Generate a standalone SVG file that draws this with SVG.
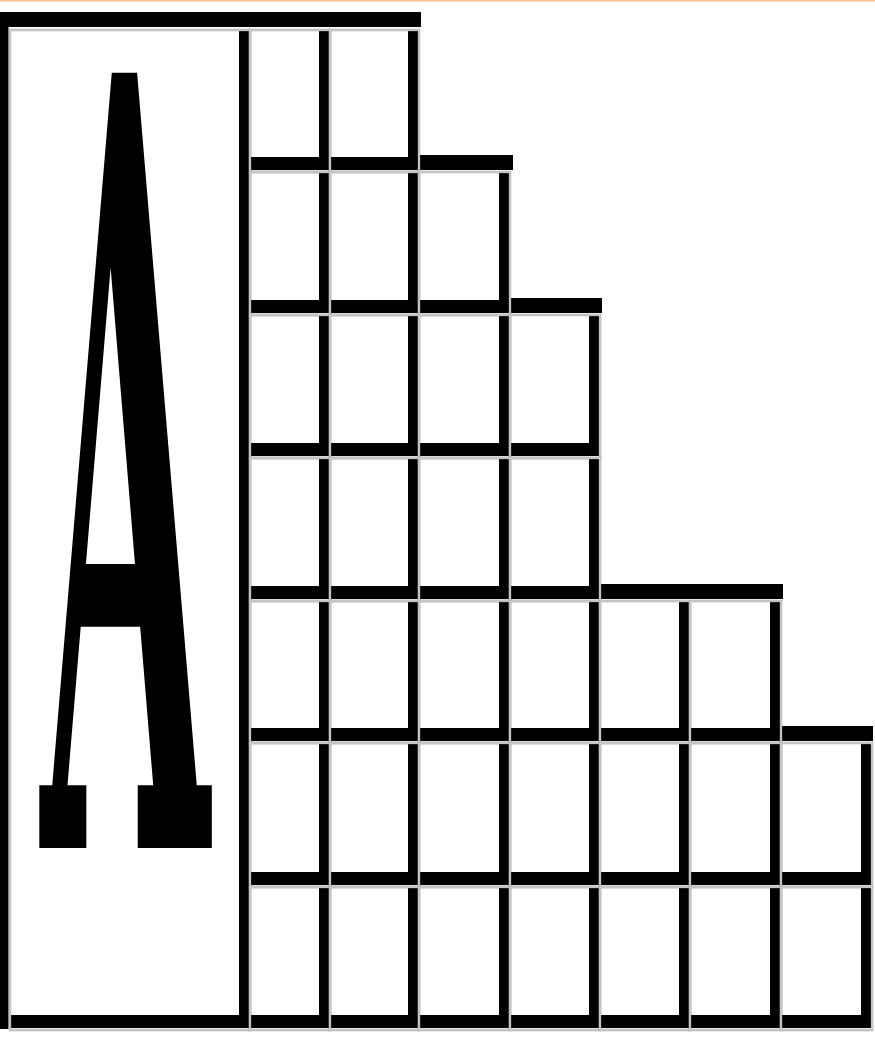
<svg xmlns="http://www.w3.org/2000/svg" width="875" height="1038" viewBox="0 0 875 1038">
<style>
.blk{fill:#000}
.ln{fill:none;stroke:#9c9c9c;stroke-width:2.4}
.hl{fill:none;stroke:#f4f4f4;stroke-width:0.9}
.glyph{font-family:"DejaVu Serif","Liberation Serif",serif;font-weight:bold;fill:#000}
</style>
<rect x="0" y="0" width="875" height="1038" fill="#fff"/>
<rect x="0" y="0" width="875" height="1.5" fill="#f7c28f"/>
<g id="frame">
<rect class="blk" x="0" y="12" width="421" height="15"/>
<rect class="blk" x="0" y="12" width="8.5" height="1017"/>
<rect class="blk" x="410" y="155" width="103" height="15"/>
<rect class="blk" x="500" y="298" width="102" height="15"/>
<rect class="blk" x="590" y="584" width="193" height="15"/>
<rect class="blk" x="770" y="726" width="103" height="15"/>
</g>
<g id="box-A">
<rect class="blk" x="10" y="1015" width="240" height="13"/>
<rect class="blk" x="239" y="30" width="10" height="998"/>
<rect class="ln" x="10" y="30" width="240" height="1000"/>
<rect class="hl" x="10" y="30" width="240" height="1000"/>
<text class="glyph" transform="translate(41,848) scale(1,4.9)" font-size="217">A</text>
</g>
<g id="cells">
<g id="r1c1"><rect class="blk" x="250" y="157" width="80" height="13"/><rect class="blk" x="319" y="30" width="10" height="140"/><rect class="ln" x="250" y="30" width="80" height="142"/><rect class="hl" x="250" y="30" width="80" height="142"/></g>
<g id="r1c2"><rect class="blk" x="330" y="157" width="89" height="13"/><rect class="blk" x="408" y="30" width="10" height="140"/><rect class="ln" x="330" y="30" width="89" height="142"/><rect class="hl" x="330" y="30" width="89" height="142"/></g>
<g id="r2c1"><rect class="blk" x="250" y="300" width="80" height="13"/><rect class="blk" x="319" y="172" width="10" height="141"/><rect class="ln" x="250" y="172" width="80" height="143"/><rect class="hl" x="250" y="172" width="80" height="143"/></g>
<g id="r2c2"><rect class="blk" x="330" y="300" width="89" height="13"/><rect class="blk" x="408" y="172" width="10" height="141"/><rect class="ln" x="330" y="172" width="89" height="143"/><rect class="hl" x="330" y="172" width="89" height="143"/></g>
<g id="r2c3"><rect class="blk" x="419" y="300" width="91" height="13"/><rect class="blk" x="499" y="172" width="10" height="141"/><rect class="ln" x="419" y="172" width="91" height="143"/><rect class="hl" x="419" y="172" width="91" height="143"/></g>
<g id="r3c1"><rect class="blk" x="250" y="443" width="80" height="13"/><rect class="blk" x="319" y="315" width="10" height="141"/><rect class="ln" x="250" y="315" width="80" height="143"/><rect class="hl" x="250" y="315" width="80" height="143"/></g>
<g id="r3c2"><rect class="blk" x="330" y="443" width="89" height="13"/><rect class="blk" x="408" y="315" width="10" height="141"/><rect class="ln" x="330" y="315" width="89" height="143"/><rect class="hl" x="330" y="315" width="89" height="143"/></g>
<g id="r3c3"><rect class="blk" x="419" y="443" width="91" height="13"/><rect class="blk" x="499" y="315" width="10" height="141"/><rect class="ln" x="419" y="315" width="91" height="143"/><rect class="hl" x="419" y="315" width="91" height="143"/></g>
<g id="r3c4"><rect class="blk" x="510" y="443" width="90" height="13"/><rect class="blk" x="589" y="315" width="10" height="141"/><rect class="ln" x="510" y="315" width="90" height="143"/><rect class="hl" x="510" y="315" width="90" height="143"/></g>
<g id="r4c1"><rect class="blk" x="250" y="586" width="80" height="13"/><rect class="blk" x="319" y="458" width="10" height="141"/><rect class="ln" x="250" y="458" width="80" height="143"/><rect class="hl" x="250" y="458" width="80" height="143"/></g>
<g id="r4c2"><rect class="blk" x="330" y="586" width="89" height="13"/><rect class="blk" x="408" y="458" width="10" height="141"/><rect class="ln" x="330" y="458" width="89" height="143"/><rect class="hl" x="330" y="458" width="89" height="143"/></g>
<g id="r4c3"><rect class="blk" x="419" y="586" width="91" height="13"/><rect class="blk" x="499" y="458" width="10" height="141"/><rect class="ln" x="419" y="458" width="91" height="143"/><rect class="hl" x="419" y="458" width="91" height="143"/></g>
<g id="r4c4"><rect class="blk" x="510" y="586" width="90" height="13"/><rect class="blk" x="589" y="458" width="10" height="141"/><rect class="ln" x="510" y="458" width="90" height="143"/><rect class="hl" x="510" y="458" width="90" height="143"/></g>
<g id="r5c1"><rect class="blk" x="250" y="728" width="80" height="13"/><rect class="blk" x="319" y="601" width="10" height="140"/><rect class="ln" x="250" y="601" width="80" height="142"/><rect class="hl" x="250" y="601" width="80" height="142"/></g>
<g id="r5c2"><rect class="blk" x="330" y="728" width="89" height="13"/><rect class="blk" x="408" y="601" width="10" height="140"/><rect class="ln" x="330" y="601" width="89" height="142"/><rect class="hl" x="330" y="601" width="89" height="142"/></g>
<g id="r5c3"><rect class="blk" x="419" y="728" width="91" height="13"/><rect class="blk" x="499" y="601" width="10" height="140"/><rect class="ln" x="419" y="601" width="91" height="142"/><rect class="hl" x="419" y="601" width="91" height="142"/></g>
<g id="r5c4"><rect class="blk" x="510" y="728" width="90" height="13"/><rect class="blk" x="589" y="601" width="10" height="140"/><rect class="ln" x="510" y="601" width="90" height="142"/><rect class="hl" x="510" y="601" width="90" height="142"/></g>
<g id="r5c5"><rect class="blk" x="600" y="728" width="90" height="13"/><rect class="blk" x="679" y="601" width="10" height="140"/><rect class="ln" x="600" y="601" width="90" height="142"/><rect class="hl" x="600" y="601" width="90" height="142"/></g>
<g id="r5c6"><rect class="blk" x="690" y="728" width="91" height="13"/><rect class="blk" x="770" y="601" width="10" height="140"/><rect class="ln" x="690" y="601" width="91" height="142"/><rect class="hl" x="690" y="601" width="91" height="142"/></g>
<g id="r6c1"><rect class="blk" x="250" y="872" width="80" height="13"/><rect class="blk" x="319" y="743" width="10" height="142"/><rect class="ln" x="250" y="743" width="80" height="144"/><rect class="hl" x="250" y="743" width="80" height="144"/></g>
<g id="r6c2"><rect class="blk" x="330" y="872" width="89" height="13"/><rect class="blk" x="408" y="743" width="10" height="142"/><rect class="ln" x="330" y="743" width="89" height="144"/><rect class="hl" x="330" y="743" width="89" height="144"/></g>
<g id="r6c3"><rect class="blk" x="419" y="872" width="91" height="13"/><rect class="blk" x="499" y="743" width="10" height="142"/><rect class="ln" x="419" y="743" width="91" height="144"/><rect class="hl" x="419" y="743" width="91" height="144"/></g>
<g id="r6c4"><rect class="blk" x="510" y="872" width="90" height="13"/><rect class="blk" x="589" y="743" width="10" height="142"/><rect class="ln" x="510" y="743" width="90" height="144"/><rect class="hl" x="510" y="743" width="90" height="144"/></g>
<g id="r6c5"><rect class="blk" x="600" y="872" width="90" height="13"/><rect class="blk" x="679" y="743" width="10" height="142"/><rect class="ln" x="600" y="743" width="90" height="144"/><rect class="hl" x="600" y="743" width="90" height="144"/></g>
<g id="r6c6"><rect class="blk" x="690" y="872" width="91" height="13"/><rect class="blk" x="770" y="743" width="10" height="142"/><rect class="ln" x="690" y="743" width="91" height="144"/><rect class="hl" x="690" y="743" width="91" height="144"/></g>
<g id="r6c7"><rect class="blk" x="781" y="872" width="91" height="13"/><rect class="blk" x="861" y="743" width="10" height="142"/><rect class="ln" x="781" y="743" width="91" height="144"/><rect class="hl" x="781" y="743" width="91" height="144"/></g>
<g id="r7c1"><rect class="blk" x="250" y="1015" width="80" height="13"/><rect class="blk" x="319" y="887" width="10" height="141"/><rect class="ln" x="250" y="887" width="80" height="143"/><rect class="hl" x="250" y="887" width="80" height="143"/></g>
<g id="r7c2"><rect class="blk" x="330" y="1015" width="89" height="13"/><rect class="blk" x="408" y="887" width="10" height="141"/><rect class="ln" x="330" y="887" width="89" height="143"/><rect class="hl" x="330" y="887" width="89" height="143"/></g>
<g id="r7c3"><rect class="blk" x="419" y="1015" width="91" height="13"/><rect class="blk" x="499" y="887" width="10" height="141"/><rect class="ln" x="419" y="887" width="91" height="143"/><rect class="hl" x="419" y="887" width="91" height="143"/></g>
<g id="r7c4"><rect class="blk" x="510" y="1015" width="90" height="13"/><rect class="blk" x="589" y="887" width="10" height="141"/><rect class="ln" x="510" y="887" width="90" height="143"/><rect class="hl" x="510" y="887" width="90" height="143"/></g>
<g id="r7c5"><rect class="blk" x="600" y="1015" width="90" height="13"/><rect class="blk" x="679" y="887" width="10" height="141"/><rect class="ln" x="600" y="887" width="90" height="143"/><rect class="hl" x="600" y="887" width="90" height="143"/></g>
<g id="r7c6"><rect class="blk" x="690" y="1015" width="91" height="13"/><rect class="blk" x="770" y="887" width="10" height="141"/><rect class="ln" x="690" y="887" width="91" height="143"/><rect class="hl" x="690" y="887" width="91" height="143"/></g>
<g id="r7c7"><rect class="blk" x="781" y="1015" width="91" height="13"/><rect class="blk" x="861" y="887" width="10" height="141"/><rect class="ln" x="781" y="887" width="91" height="143"/><rect class="hl" x="781" y="887" width="91" height="143"/></g>
</g>
</svg>
